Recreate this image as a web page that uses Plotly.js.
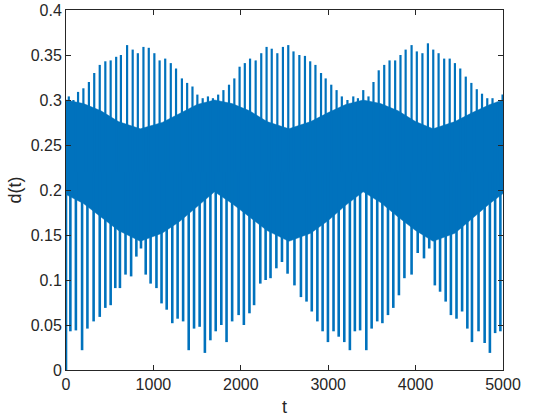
<!DOCTYPE html>
<html>
<head>
<meta charset="utf-8">
<script src="https://cdn.plot.ly/plotly-3.0.1.min.js"></script>
<style>html,body{margin:0;padding:0;background:#fff;}#chart{width:560px;height:420px;}</style>
</head>
<body>
<div id="chart"></div>
<script>
// Upward spike peaks (time, value)
const upperT = [32,85,138,199,262,323,386,450,511,574,628,
  699,763,822,886,947,1011,1071,1135,1199,1259,
  1326,1386,1447,1503,1564,1624,1681,1741,1801,1865,1926,
  1986,2046,2106,2170,2234,2295,2354,2418,2482,2543,2603,
  2670,2734,2794,2854,2918,2971,3035,3096,3156,3220,
  3287,3340,3401,3461,3518,3578,3641,3702,3766,3827,3886,
  3954,4014,4078,4141,4202,4263,4327,4390,4450,4511,4574,4638,
  4700,4760,4820,4880,4940,4995];
const upperV = [0.304,0.300,0.309,0.313,0.320,0.330,0.339,0.343,0.344,0.348,0.350,
  0.361,0.356,0.352,0.359,0.358,0.352,0.344,0.346,0.341,0.335,
  0.324,0.319,0.315,0.306,0.302,0.304,0.302,0.306,0.311,0.317,0.324,
  0.337,0.341,0.346,0.344,0.352,0.359,0.357,0.352,0.359,0.361,0.354,
  0.350,0.349,0.343,0.339,0.330,0.324,0.317,0.311,0.304,0.300,
  0.304,0.302,0.311,0.304,0.320,0.333,0.339,0.344,0.344,0.350,0.356,
  0.361,0.354,0.352,0.363,0.356,0.352,0.346,0.346,0.341,0.335,0.326,0.319,
  0.312,0.307,0.302,0.302,0.298,0.306];

// Downward spike troughs (time, value)
const lowerT = [0,50,113,184,245,316,386,450,511,564,617,
  681,745,805,858,912,968,1035,1093,1152,1216,1277,
  1340,1404,1465,1529,1589,1652,1713,1777,1837,1901,
  1975,2035,2099,2152,2223,2284,2340,2407,2471,2535,2614,
  2688,2752,2812,2876,2936,2997,3061,3120,3184,3248,
  3305,3365,3436,3497,3561,3620,3684,3745,3809,3872,
  3954,4024,4096,4156,4220,4280,4344,4404,4468,4532,4592,4645,
  4720,4790,4850,4910,4970];
const lowerV = [0,0.043,0.044,0.022,0.046,0.054,0.059,0.069,0.072,0.091,0.091,
  0.106,0.104,0.126,0.135,0.106,0.096,0.091,0.074,0.067,0.052,0.057,
  0.054,0.022,0.046,0.048,0.019,0.033,0.043,0.050,0.031,0.054,
  0.061,0.050,0.063,0.072,0.096,0.100,0.102,0.113,0.120,0.107,0.094,
  0.081,0.076,0.065,0.054,0.043,0.031,0.043,0.037,0.031,0.022,
  0.043,0.044,0.022,0.046,0.054,0.052,0.061,0.069,0.083,0.102,
  0.106,0.130,0.124,0.135,0.094,0.087,0.076,0.061,0.057,0.065,0.046,0.031,
  0.043,0.030,0.019,0.041,0.043];

// Dense fast-oscillation band: upper and lower edges
const bandT   = [0,200,400,600,850,1100,1300,1500,1700,1900,2100,2300,2550,2800,3000,3200,3400,3600,3800,4000,4200,4450,4650,4850,5000];
const bandTop = [0.300,0.296,0.288,0.276,0.268,0.275,0.285,0.295,0.300,0.296,0.288,0.276,0.268,0.276,0.286,0.295,0.300,0.296,0.288,0.276,0.268,0.276,0.286,0.295,0.300];
const bandBot = [0.195,0.185,0.170,0.155,0.143,0.152,0.165,0.182,0.198,0.185,0.170,0.155,0.143,0.152,0.166,0.183,0.198,0.186,0.170,0.155,0.143,0.152,0.168,0.185,0.196];

// level inside the dense band from which each spike is drawn
const spikeBase = 0.22;

const xTickVals = [0,1000,2000,3000,4000,5000];
const yTickVals = [0,0.05,0.1,0.15,0.2,0.25,0.3,0.35,0.4];

const blue = '#0072BD';
const ink = '#262626';

function stems(ts, vs){
  const x=[], y=[];
  ts.forEach((t,i)=>{ x.push(t,t,null); y.push(spikeBase, vs[i], null); });
  return {x, y};
}
const up = stems(upperT, upperV);
const dn = stems(lowerT, lowerV);

const band = {
  x: bandT.concat(bandT.slice().reverse()),
  y: bandTop.concat(bandBot.slice().reverse()),
  type:'scatter', mode:'lines', fill:'toself', fillcolor: blue,
  line:{width:0.5, color: blue}, hoverinfo:'skip', showlegend:false
};
const upTrace = {x: up.x, y: up.y, type:'scatter', mode:'lines',
  line:{color: blue, width:2.2}, connectgaps:false, showlegend:false};
const dnTrace = {x: dn.x, y: dn.y, type:'scatter', mode:'lines',
  line:{color: blue, width:2.6}, connectgaps:false, showlegend:false};

const fam = '"Liberation Sans", Arial, Helvetica, sans-serif';
const layout = {
  width:560, height:420,
  margin:{l:66, r:57, t:10, b:50},
  paper_bgcolor:'#fff', plot_bgcolor:'#fff',
  font:{family:fam, size:16, color:ink},
  showlegend:false,
  xaxis:{range:[0,5000], tickvals:xTickVals, ticktext:xTickVals.map(String),
    ticks:'inside', ticklen:5, tickwidth:1, tickcolor:ink,
    showline:true, linecolor:ink, linewidth:1, mirror:'ticks',
    showgrid:false, zeroline:false, tickfont:{family:fam, size:16, color:ink},
    title:{text:'t', font:{family:fam, size:18, color:ink}, standoff:8}},
  yaxis:{range:[0,0.4], tickvals:yTickVals, ticktext:yTickVals.map(String),
    ticks:'inside', ticklen:5, tickwidth:1, tickcolor:ink,
    showline:true, linecolor:ink, linewidth:1, mirror:'ticks',
    showgrid:false, zeroline:false, tickfont:{family:fam, size:16, color:ink},
    title:{text:'d(t)', font:{family:fam, size:18, color:ink}, standoff:4}}
};
Plotly.newPlot('chart', [band, upTrace, dnTrace], layout, {displayModeBar:false, staticPlot:true});
</script>
</body>
</html>
